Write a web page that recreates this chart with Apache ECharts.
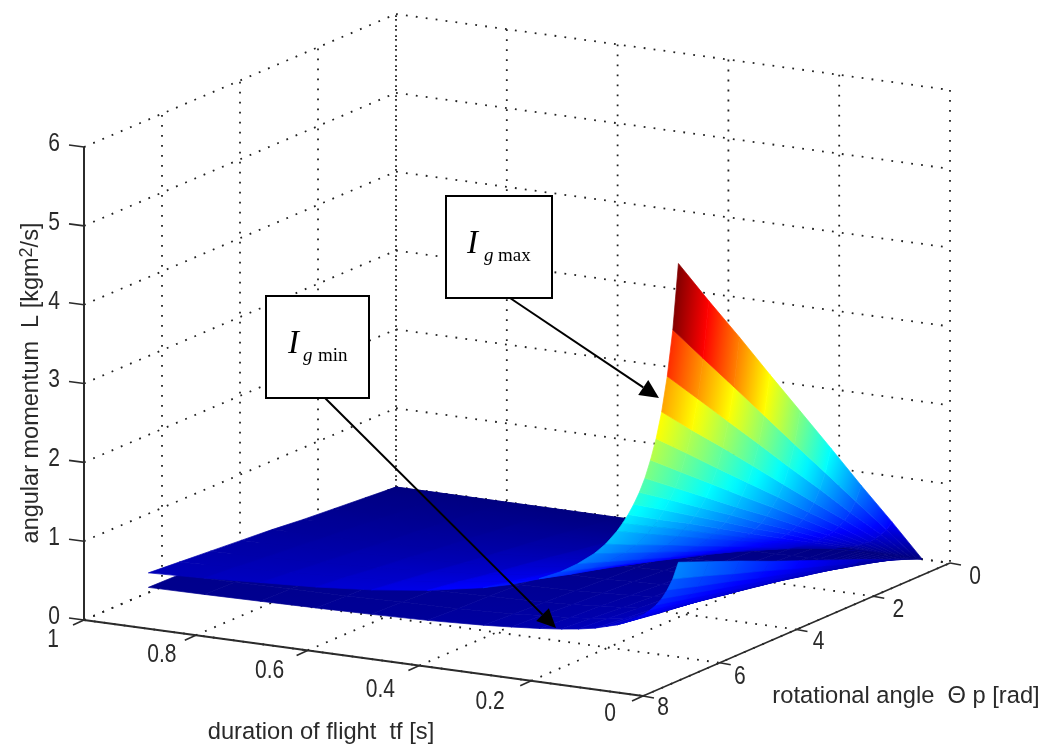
<!DOCTYPE html>
<html>
<head>
<meta charset="utf-8">
<style>html,body{margin:0;padding:0;background:#fff}#c{width:1048px;height:747px}</style>
<script src="https://cdn.jsdelivr.net/npm/echarts@6/dist/echarts.min.js"></script>
</head>
<body>
<div id="c"></div>
<script>
// ---------- data ----------
const tfTicks = [1, 0.8, 0.6, 0.4, 0.2, 0];
const tfTickLabels = ['1', '0.8', '0.6', '0.4', '0.2', '0'];
const thetaTicks = [8, 6, 4, 2, 0];
const thetaTickLabels = ['8', '6', '4', '2', '0'];
const zTicks = [0, 1, 2, 3, 4, 5, 6];
const zTickLabels = ['0', '1', '2', '3', '4', '5', '6'];
const tfValues = [0.05,0.06,0.07,0.08,0.09,0.10,0.11,0.12,0.13,0.14,0.15,0.16,0.18,0.20,0.23,0.26,0.30,0.35,0.40,0.50,0.60,0.70,0.80,0.90,1];
const thetaValues = [0,0.79,1.59,2.38,3.18,3.97,4.76,5.56,6.35];
const upperL = [
[0,.64,1.27,1.91,2.55,3.18,3.82,4.45,5.09],
[0,.53,1.06,1.59,2.12,2.65,3.18,3.71,4.24],
[0,.46,.91,1.37,1.82,2.28,2.73,3.19,3.64],
[0,.40,.80,1.19,1.59,1.99,2.39,2.78,3.18],
[0,.35,.71,1.06,1.42,1.77,2.12,2.48,2.83],
[0,.32,.64,.96,1.28,1.59,1.91,2.23,2.55],
[0,.29,.58,.87,1.16,1.44,1.73,2.02,2.31],
[0,.27,.53,.80,1.06,1.33,1.59,1.86,2.12],
[0,.25,.49,.74,.98,1.23,1.47,1.72,1.96],
[0,.23,.46,.68,.91,1.14,1.37,1.59,1.82],
[0,.21,.43,.64,.85,1.06,1.28,1.49,1.70],
[0,.20,.40,.60,.80,.99,1.19,1.39,1.59],
[0,.18,.35,.53,.71,.88,1.06,1.23,1.41],
[0,.16,.32,.48,.64,.79,.95,1.11,1.27],
[0,.14,.28,.42,.56,.69,.83,.97,1.11],
[0,.12,.25,.37,.49,.61,.74,.86,.98],
[0,.11,.21,.32,.43,.53,.64,.74,.85],
[0,.09,.18,.27,.37,.46,.55,.64,.73],
[0,.08,.16,.24,.32,.40,.48,.56,.64],
[0,.06,.13,.19,.26,.32,.38,.45,.51],
[0,.05,.11,.16,.21,.26,.32,.37,.42],
[0,.05,.09,.14,.18,.23,.27,.32,.36],
[0,.04,.08,.12,.16,.20,.24,.28,.32],
[0,.04,.07,.11,.14,.18,.21,.25,.28],
[0,.03,.06,.09,.13,.16,.19,.22,.25]
];
const lowerL = [
[0,.16,.33,.49,.65,.81,.98,1.14,1.30],
[0,.14,.27,.41,.54,.68,.81,.95,1.08],
[0,.12,.23,.35,.47,.58,.70,.81,.93],
[0,.10,.20,.30,.41,.51,.61,.71,.81],
[0,.09,.18,.27,.36,.45,.54,.63,.72],
[0,.08,.16,.24,.33,.41,.49,.57,.65],
[0,.07,.15,.22,.30,.37,.44,.52,.59],
[0,.07,.14,.20,.27,.34,.41,.47,.54],
[0,.06,.13,.19,.25,.31,.38,.44,.50],
[0,.06,.12,.17,.23,.29,.35,.40,.46],
[0,.05,.11,.16,.22,.27,.32,.38,.43],
[0,.05,.10,.15,.20,.25,.30,.35,.40],
[0,.05,.09,.14,.18,.23,.27,.32,.36],
[0,.04,.08,.12,.16,.20,.24,.28,.32],
[0,.04,.07,.11,.14,.18,.21,.25,.28],
[0,.03,.06,.09,.13,.16,.19,.22,.25],
[0,.03,.06,.08,.11,.14,.17,.19,.22],
[0,.02,.05,.07,.10,.12,.14,.17,.19],
[0,.02,.04,.06,.08,.10,.12,.14,.165],
[0,.02,.03,.05,.07,.08,.10,.11,.13],
[0,.01,.03,.04,.06,.07,.08,.10,.11],
[0,.01,.02,.04,.05,.06,.07,.08,.095],
[0,.01,.02,.03,.04,.05,.06,.07,.083],
[0,.01,.02,.03,.04,.05,.05,.06,.073],
[0,.01,.02,.02,.03,.04,.05,.06,.066]
];
const surfaces = [lowerL, upperL];
const colorMax = 5.09;

// ---------- view: floor corners of the 3D box on the page and height scale ----------
const corner = {
  tf1th8: [84, 620], tf0th8: [643, 696], tf0th0: [950, 563], tf1th0: [396, 487]
};
const zScale = 78.83, thetaMax = 8, zMax = 6;
const tfLabelOffset = [[-31, 20], [-34, 20], [-38, 21], [-39, 24], [-41, 21], [-33, 18]];
const thetaLabelOffset = [[20, 12], [20, 14], [22, 13], [25, 14], [25, 14]];
function project(tf, th, L) {
  const v = th / thetaMax, u = tf;
  const f = i => (1 - v) * ((1 - u) * corner.tf0th0[i] + u * corner.tf1th0[i])
               + v * ((1 - u) * corner.tf0th8[i] + u * corner.tf1th8[i]);
  return [f(0), f(1) - L * zScale];
}
function jet(t) {
  const c = x => Math.round(255 * Math.max(0, Math.min(1, x)));
  return 'rgb(' + c(Math.min(4*t-1.5, -4*t+4.5)) + ',' + c(Math.min(4*t-0.5, -4*t+3.5)) + ',' + c(Math.min(4*t+0.5, -4*t+2.5)) + ')';
}

// ---------- surface cells, back to front ----------
const cells = [];
surfaces.forEach((s, si) => {
  for (let r = tfValues.length - 2; r >= 0; r--)
    for (let c = 0; c < thetaValues.length - 1; c++) cells.push([0, 0, si, r, c]);
});
function renderCell(params, api) {
  const s = surfaces[api.value(2)], r = api.value(3), c = api.value(4);
  const P = (ri, ci) => api.coord(project(tfValues[ri], thetaValues[ci], s[ri][ci]));
  const a = P(r, c), b = P(r, c + 1), d = P(r + 1, c + 1), e = P(r + 1, c);
  // gradient runs along theta, with iso-lines parallel to the strip's tf edge
  const vx = e[0] - a[0], vy = e[1] - a[1], nx = -vy, ny = vx;
  const ux = b[0] - a[0], uy = b[1] - a[1];
  const k = (ux * nx + uy * ny) / (nx * nx + ny * ny || 1);
  const L0 = s[r][c], L1 = s[r][c + 1], stops = [];
  for (let i = 0; i <= 4; i++) stops.push({offset: i / 4, color: jet((L0 + (L1 - L0) * i / 4) / colorMax)});
  const grad = {type: 'linear', global: true, x: a[0], y: a[1], x2: a[0] + nx * k, y2: a[1] + ny * k, colorStops: stops};
  return {type: 'polygon', shape: {points: [a, b, d, e]},
    style: {fill: grad, stroke: grad, lineWidth: 0.7}};
}

// ---------- box grid ----------
const gridLines = [];
tfTicks.forEach(t => gridLines.push([[t, 8, 0], [t, 0, 0], 0], [[t, 0, zMax], [t, 0, 0], t === 1 ? 5 : 0]));
thetaTicks.forEach(t => gridLines.push([[1, t, 0], [0, t, 0], 0], [[1, t, 0], [1, t, zMax], 0]));
zTicks.forEach(z => gridLines.push([[1, 8, z], [1, 0, z], 0], [[1, 0, z], [0, 0, z], 0]));

function simple(render, data, z) {
  return {type: 'custom', coordinateSystem: 'cartesian2d', data: data || [[0, 0]], renderItem: render,
    silent: true, z: z, clip: false, progressive: 0, animation: false};
}
const C = (api, p) => api.coord(project(p[0], p[1], p[2]));
function line(api, p, q, w, col) {
  return {type: 'line', shape: {x1: p[0], y1: p[1], x2: q[0], y2: q[1]}, style: {stroke: col, lineWidth: w}};
}
const dark = '#2b2b2b', textCol = '#2a2a2a';
function tickLabel(x, y, text) {
  return {type: 'text', x: x, y: y, scaleY: 1.2,
    style: {x: 0, y: 0, text: text, fill: textCol, align: 'center', verticalAlign: 'middle',
      font: '21px "Liberation Sans"'}};
}
function title(x, y, text) {
  return {type: 'text', x: x, y: y,
    style: {x: 0, y: 0, text: text, fill: textCol, align: 'center', verticalAlign: 'middle',
      font: '23.7px "Liberation Sans"'}};
}
function renderGrid(params, api) {
  const children = gridLines.map(l => ({type: 'line',
    shape: {x1: C(api, l[0])[0], y1: C(api, l[0])[1], x2: C(api, l[1])[0], y2: C(api, l[1])[1]},
    style: {stroke: '#222', lineWidth: 1.8, lineDash: [1.8, 8.2], lineDashOffset: l[2]}}));
  return {type: 'group', children};
}
function renderAxes(params, api) {
  const ch = [];
  const A = C(api, [1, 8, 0]), T = C(api, [1, 8, zMax]), B = C(api, [0, 8, 0]), D = C(api, [0, 0, 0]);
  ch.push(line(api, A, T, 2, dark), line(api, A, B, 2, dark), line(api, B, D, 1.6, dark));
  zTicks.forEach((z, i) => {
    const p = C(api, [1, 8, z]);
    ch.push(line(api, p, [p[0] - 15, p[1] - 2], 1.6, dark));
    ch.push(tickLabel(p[0] - 30, p[1] - 3, zTickLabels[i]));
  });
  tfTicks.forEach((t, i) => {
    const p = C(api, [t, 8, 0]);
    ch.push(line(api, p, [p[0] - 11, p[1] + 5], 1.6, dark));
    ch.push(tickLabel(p[0] + tfLabelOffset[i][0], p[1] + tfLabelOffset[i][1], tfTickLabels[i]));
  });
  thetaTicks.forEach((t, i) => {
    const p = C(api, [0, t, 0]);
    ch.push(line(api, p, [p[0] + 11, p[1] + 2], 1.6, dark));
    ch.push(tickLabel(p[0] + thetaLabelOffset[i][0], p[1] + thetaLabelOffset[i][1], thetaTickLabels[i]));
  });
  ch.push(title(321, 732, 'duration of flight  tf [s]'));
  ch.push(title(906, 696, 'rotational angle  Θ p [rad]'));
  ch.push({type: 'text', x: 31, y: 383, rotation: Math.PI / 2,
    style: {x: 0, y: 0, text: '{a|angular momentum  L [kgm}{s|2}{a|/s]}', align: 'center', verticalAlign: 'middle',
      rich: {a: {font: '23.5px "Liberation Sans"', fill: textCol, verticalAlign: 'bottom'},
             s: {font: '18px "Liberation Sans"', fill: textCol, verticalAlign: 'top', padding: [0, 0, 8, 0]}}}});
  return {type: 'group', children: ch};
}
// ---------- annotation boxes and arrows ----------
const notes = [
  {box: [446, 196, 106, 102], sub: 'max', ix: 467, subx: 484, mx: 498, base: 244,
   from: [510, 298], tip: [659, 398]},
  {box: [266, 296, 103, 102], sub: 'min', ix: 288, subx: 303, mx: 318, base: 344,
   from: [325, 398], tip: [556, 628]}
];
function renderNotes(params, api) {
  const ch = [];
  const XY = (x, y) => api.coord([x, y]);
  notes.forEach(n => {
    const o = XY(n.box[0], n.box[1]), tip = XY(n.tip[0], n.tip[1]), fr = XY(n.from[0], n.from[1]);
    const dx = tip[0] - fr[0], dy = tip[1] - fr[1], len = Math.hypot(dx, dy), ux = dx / len, uy = dy / len;
    const hl = 19, hw = 9;
    const bx = tip[0] - ux * hl, by = tip[1] - uy * hl;
    ch.push({type: 'line', shape: {x1: fr[0], y1: fr[1], x2: bx, y2: by}, style: {stroke: '#000', lineWidth: 2}});
    ch.push({type: 'polygon', shape: {points: [tip, [bx - uy * hw, by + ux * hw], [bx + uy * hw, by - ux * hw]]}, style: {fill: '#000'}});
    ch.push({type: 'rect', shape: {x: o[0], y: o[1], width: n.box[2], height: n.box[3]}, style: {fill: '#fff', stroke: '#000', lineWidth: 2}});
    ch.push({type: 'text', style: {x: n.ix, y: n.base, text: 'I', fill: '#000', align: 'left', verticalAlign: 'middle', font: 'italic 33px "Liberation Serif"'}});
    ch.push({type: 'text', style: {x: n.subx, y: n.base + 12, text: 'g', fill: '#000', align: 'left', verticalAlign: 'middle', font: 'italic 19px "Liberation Serif"'}});
    ch.push({type: 'text', style: {x: n.mx, y: n.base + 12, text: n.sub, fill: '#000', align: 'left', verticalAlign: 'middle', font: '19px "Liberation Serif"'}});
  });
  return {type: 'group', children: ch};
}

const chart = echarts.init(document.getElementById('c'), null, {renderer: 'canvas'});
chart.setOption({
  animation: false,
  backgroundColor: '#fff',
  grid: {left: 0, right: 0, top: 0, bottom: 0},
  xAxis: {type: 'value', min: 0, max: 1048, show: false},
  yAxis: {type: 'value', min: 0, max: 747, inverse: true, show: false},
  series: [
    simple(renderGrid, null, 1),
    simple(renderCell, cells, 3),
    simple(renderAxes, null, 2),
    simple(renderNotes, null, 5)
  ]
});
</script>
</body>
</html>
